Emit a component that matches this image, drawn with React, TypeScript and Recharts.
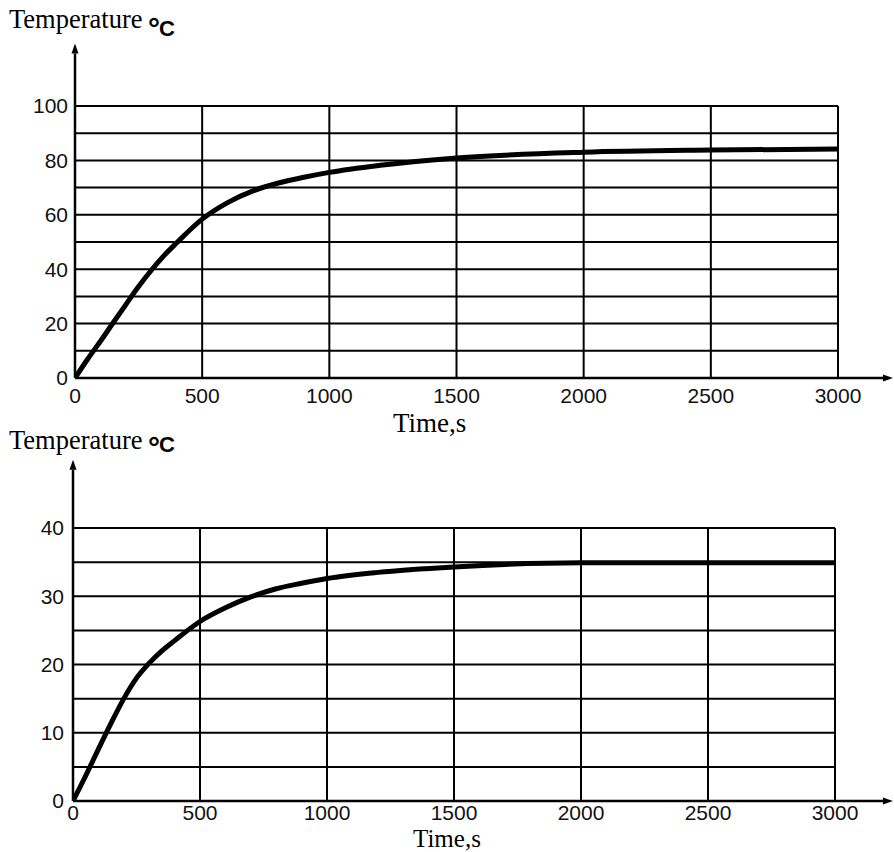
import { CartesianGrid, Line, LineChart, ReferenceLine, XAxis, YAxis } from 'recharts';

// shared time axis (seconds)
const TIME_TICKS = [0, 500, 1000, 1500, 2000, 2500, 3000];

// upper panel
const upperTimes = [0, 50, 100, 150, 200, 250, 300, 350, 400, 500, 600, 700, 800, 900, 1000, 1200, 1500, 2000, 2500, 3000];
const upperTemps = [0, 7, 13.5, 20.3, 27, 33.6, 39.6, 45, 49.7, 58.4, 64.5, 68.8, 71.7, 73.8, 75.6, 78.2, 80.9, 83, 83.8, 84.2];
const upperYTicks = [0, 10, 20, 30, 40, 50, 60, 70, 80, 90, 100];

// lower panel
const lowerTimes = [0, 50, 100, 150, 200, 250, 300, 350, 400, 500, 600, 700, 800, 900, 1000, 1200, 1500, 2000, 2500, 3000];
const lowerTemps = [0, 3.7, 7.6, 11.4, 15, 18, 20.2, 22, 23.5, 26.3, 28.3, 29.9, 31.1, 31.9, 32.6, 33.5, 34.3, 34.9, 34.9, 34.9];
const lowerYTicks = [0, 5, 10, 15, 20, 25, 30, 35, 40];

const TICK_FONT = { fontSize: 21, fill: '#111', fontFamily: '"Liberation Sans", Arial, sans-serif' };

function ArrowAxis(props: any) {
  const { x1, y1, x2, y2 } = props;
  const dx = x2 - x1;
  const dy = y2 - y1;
  const len = Math.hypot(dx, dy) || 1;
  const ux = dx / len;
  const uy = dy / len;
  const head = 10;
  const half = 3.5;
  const bx = x2 - ux * head;
  const by = y2 - uy * head;
  const pts = `${x2},${y2} ${bx - uy * half},${by + ux * half} ${bx + uy * half},${by - ux * half}`;
  return (
    <g>
      <line x1={x1} y1={y1} x2={bx} y2={by} stroke="#000" strokeWidth={2.5} />
      <polygon points={pts} fill="#000" />
    </g>
  );
}

type PanelProps = {
  times: number[];
  temps: number[];
  yTicks: number[];
  labelEvery: number;
  yMax: number;
  yArrowTo: number;
  xArrowTo: number;
  top: number;
  height: number;
  margin: { top: number; right: number; bottom: number; left: number };
  yAxisWidth: number;
  yTickGap: number;
  xTickGap: number;
};

function TempPanel(p: PanelProps) {
  const rows = p.times.map((t, i) => ({ time: t, temp: p.temps[i] }));
  return (
    <div style={{ position: 'absolute', left: 0, top: p.top, width: 894, height: p.height }}>
      <LineChart width={894} height={p.height} data={rows} margin={p.margin}>
        <CartesianGrid stroke="#000" strokeWidth={2} />
        <XAxis
          dataKey="time"
          type="number"
          domain={[0, 3000]}
          ticks={TIME_TICKS}
          interval={0}
          allowDataOverflow
          axisLine={false}
          tickLine={false}
          tickSize={0}
          tickMargin={p.xTickGap}
          height={30}
          tick={TICK_FONT}
        />
        <YAxis
          type="number"
          domain={[0, p.yMax]}
          ticks={p.yTicks}
          interval={0}
          allowDataOverflow
          axisLine={false}
          tickLine={false}
          tickSize={0}
          tickMargin={p.yTickGap}
          width={p.yAxisWidth}
          tick={TICK_FONT}
          tickFormatter={(v: number) => (v % p.labelEvery === 0 ? String(v) : '')}
        />
        <ReferenceLine
          segment={[{ x: 0, y: 0 }, { x: 0, y: p.yArrowTo }]}
          ifOverflow="visible"
          shape={ArrowAxis}
        />
        <ReferenceLine
          segment={[{ x: 0, y: 0 }, { x: p.xArrowTo, y: 0 }]}
          ifOverflow="visible"
          shape={ArrowAxis}
        />
        <Line
          type="monotone"
          dataKey="temp"
          stroke="#000"
          strokeWidth={5}
          strokeLinecap="round"
          dot={false}
          activeDot={false}
          isAnimationActive={false}
        />
      </LineChart>
    </div>
  );
}

const serif = '"Liberation Serif", "Times New Roman", serif';
const boldSans = '"Liberation Sans", Arial, sans-serif';

function Titles() {
  return (
    <svg
      width={894}
      height={852}
      style={{ position: 'absolute', left: 0, top: 0, pointerEvents: 'none' }}
    >
      <text x={9} y={28} fontFamily={serif} fontSize={26.5} fill="#000">Temperature</text>
      <text x={148} y={39} fontFamily={boldSans} fontWeight="bold" fontSize={30} fill="#000">°</text>
      <text x={159} y={36} fontFamily={boldSans} fontWeight="bold" fontSize={22} fill="#000">C</text>
      <text x={393} y={432} fontFamily={serif} fontSize={27} fill="#000">Time,s</text>

      <text x={9} y={449} fontFamily={serif} fontSize={26.5} fill="#000">Temperature</text>
      <text x={148} y={458} fontFamily={boldSans} fontWeight="bold" fontSize={30} fill="#000">°</text>
      <text x={159} y={452} fontFamily={boldSans} fontWeight="bold" fontSize={22} fill="#000">C</text>
      <text x={413} y={846.5} fontFamily={serif} fontSize={25} fill="#000">Time,s</text>
    </svg>
  );
}

export default function App() {
  return (
    <div style={{ position: 'absolute', left: 0, top: 0, width: 894, height: 852, background: '#fff' }}>
      <TempPanel
        times={upperTimes}
        temps={upperTemps}
        yTicks={upperYTicks}
        labelEvery={20}
        yMax={100}
        yArrowTo={123}
        xArrowTo={3216}
        top={0}
        height={420}
        margin={{ top: 106, right: 56, bottom: 12, left: 8 }}
        yAxisWidth={67}
        yTickGap={7}
        xTickGap={10}
      />
      <TempPanel
        times={lowerTimes}
        temps={lowerTemps}
        yTicks={lowerYTicks}
        labelEvery={10}
        yMax={40}
        yArrowTo={50}
        xArrowTo={3228}
        top={420}
        height={432}
        margin={{ top: 108, right: 59, bottom: 21, left: 8 }}
        yAxisWidth={65}
        yTickGap={9}
        xTickGap={4}
      />
      <Titles />
    </div>
  );
}
